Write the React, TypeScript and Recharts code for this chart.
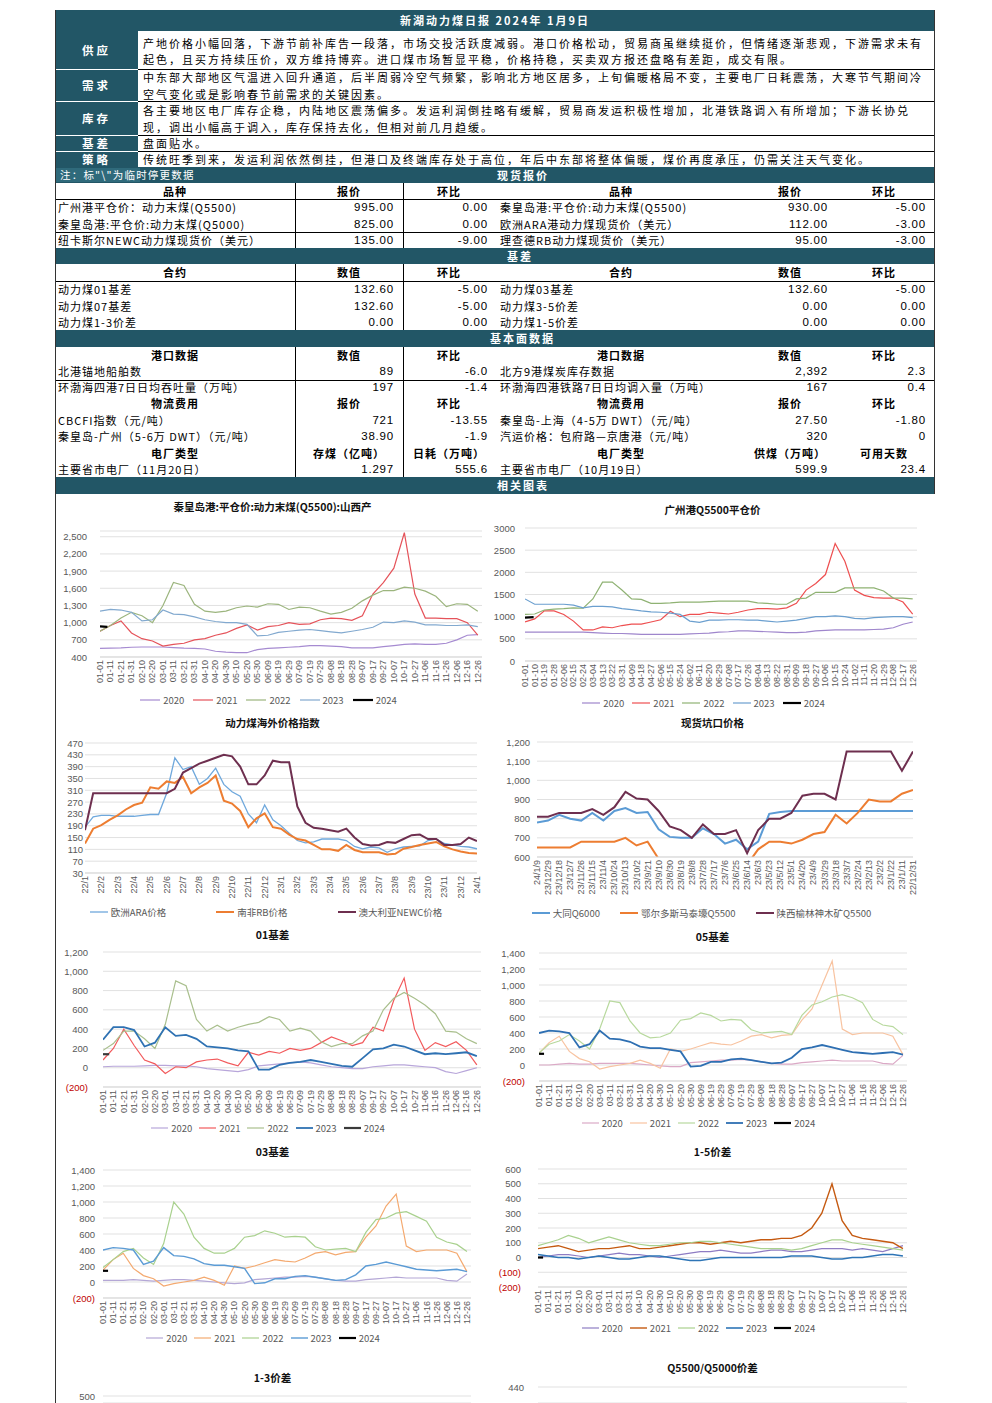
import React from "react";
import { LineChart, Line, XAxis, YAxis, CartesianGrid, Legend } from "recharts";

// ---------------- page text / table data ----------------
const reportTitle = "新湖动力煤日报 2024年 1月9日";
const commentaryLabels = ["供应", "需求", "库存", "基差", "策略"];
const commentaryLines = [
  ["产地价格小幅回落，下游节前补库告一段落，市场交投活跃度减弱。港口价格松动，贸易商虽继续挺价，但情绪逐渐悲观，下游需求未有", "起色，且买方持续压价，双方维持博弈。进口煤市场暂显平稳，价格持稳，买卖双方报还盘略有差距，成交有限。"],
  ["中东部大部地区气温进入回升通道，后半周弱冷空气频繁，影响北方地区居多，上旬偏暖格局不变，主要电厂日耗震荡，大寒节气期间冷", "空气变化或是影响春节前需求的关键因素。"],
  ["各主要地区电厂库存企稳，内陆地区震荡偏多。发运利润倒挂略有缓解，贸易商发运积极性增加，北港铁路调入有所增加；下游长协兑", "现，调出小幅高于调入，库存保持去化，但相对前几月趋缓。"],
  ["盘面贴水。"],
  ["传统旺季到来，发运利润依然倒挂，但港口及终端库存处于高位，年后中东部将整体偏暖，煤价再度承压，仍需关注天气变化。"],
];
const noteText = "注：标\"\\\"为临时停更数据";
const barTitles = ["现货报价", "基差", "基本面数据", "相关图表"];

const spotHeader = ["品种", "报价", "环比", "品种", "报价", "环比"];
const spotRows = [
  ["广州港平仓价：动力末煤(Q5500)", "995.00", "0.00", "秦皇岛港:平仓价:动力末煤(Q5500)", "930.00", "-5.00"],
  ["秦皇岛港:平仓价:动力末煤(Q5000)", "825.00", "0.00", "欧洲ARA港动力煤现货价（美元）", "112.00", "-3.00"],
  ["纽卡斯尔NEWC动力煤现货价（美元）", "135.00", "-9.00", "理查德RB动力煤现货价（美元）", "95.00", "-3.00"],
];
const basisHeader = ["合约", "数值", "环比", "合约", "数值", "环比"];
const basisRows = [
  ["动力煤01基差", "132.60", "-5.00", "动力煤03基差", "132.60", "-5.00"],
  ["动力煤07基差", "132.60", "-5.00", "动力煤3-5价差", "0.00", "0.00"],
  ["动力煤1-3价差", "0.00", "0.00", "动力煤1-5价差", "0.00", "0.00"],
];
const fundRows = [
  { head: true, cells: ["港口数据", "数值", "环比", "港口数据", "数值", "环比"] },
  { head: false, cells: ["北港锚地船舶数", "89", "-6.0", "北方9港煤炭库存数据", "2,392", "2.3"] },
  { head: false, cells: ["环渤海四港7日日均吞吐量（万吨）", "197", "-1.4", "环渤海四港铁路7日日均调入量（万吨）", "167", "0.4"] },
  { head: true, cells: ["物流费用", "报价", "环比", "物流费用", "报价", "环比"] },
  { head: false, cells: ["CBCFI指数（元/吨）", "721", "-13.55", "秦皇岛-上海（4-5万 DWT）（元/吨）", "27.50", "-1.80"] },
  { head: false, cells: ["秦皇岛-广州（5-6万 DWT）（元/吨）", "38.90", "-1.9", "汽运价格：包府路—京唐港（元/吨）", "320", "0"] },
  { head: true, cells: ["电厂类型", "存煤（亿吨）", "日耗（万吨）", "电厂类型", "供煤（万吨）", "可用天数"] },
  { head: false, cells: ["主要省市电厂（11月20日）", "1.297", "555.6", "主要省市电厂（10月19日）", "599.9", "23.4"] },
];

// ---------------- chart data ----------------
const seasonNames = ["2020", "2021", "2022", "2023", "2024"];
const ticks10 = ["01-01","01-11","01-21","01-31","02-10","02-20","03-01","03-11","03-21","03-31","04-10","04-20","04-30","05-10","05-20","05-30","06-09","06-19","06-29","07-09","07-19","07-29","08-08","08-18","08-28","09-07","09-17","09-27","10-07","10-17","10-27","11-06","11-16","11-26","12-06","12-16","12-26"];
const ticks9 = ["01-01","01-10","01-19","01-28","02-06","02-15","02-24","03-04","03-13","03-22","03-31","04-09","04-18","04-27","05-06","05-15","05-24","06-02","06-11","06-20","06-29","07-08","07-17","07-26","08-04","08-13","08-22","08-31","09-09","09-18","09-27","10-06","10-15","10-24","11-02","11-11","11-20","11-29","12-08","12-17","12-26"];
const days10 = ticks10.map((_, i) => 1 + 10 * i);
const days9 = ticks9.map((_, i) => 1 + 9 * i);

// 秦皇岛港:平仓价:动力末煤(Q5500):山西产
const qhd2020 = [550,555,560,570,575,575,575,565,555,550,540,500,485,475,475,530,550,560,570,580,600,600,590,580,560,560,560,580,600,620,630,620,620,640,700,780,790];
const qhd2021 = [850,950,1030,820,720,680,590,620,640,700,720,780,820,900,960,870,930,950,1000,970,980,1050,1080,1070,1040,1120,1500,1700,1950,2570,1500,1080,1080,1070,1070,1000,780];
const qhd2022 = [850,950,1080,1180,1120,1000,1300,1700,1650,1320,1200,1180,1200,1260,1290,1270,1330,1320,1230,1270,1260,1200,1150,1180,1250,1380,1480,1560,1560,1620,1600,1550,1460,1280,1330,1320,1200];
const qhd2023 = [1200,1230,1220,1180,1030,1050,1220,1150,1140,1100,1050,1020,1000,1000,970,770,780,830,850,870,880,860,840,820,850,880,920,1010,1000,1030,1010,960,960,950,950,960,930];
const qhd2024Days = [1, 8];
const qhd2024 = [935, 925];

// 广州港Q5500平仓价
const gz2020 = [650,650,650,650,650,650,650,640,630,620,620,610,600,600,600,600,600,610,620,630,650,660,680,680,670,660,650,640,640,650,680,690,700,700,700,700,710,720,750,830,880];
const gz2021 = [880,950,1130,1130,1050,900,700,700,770,750,800,830,830,880,930,1120,1000,1050,1050,1100,1080,1060,1100,1150,1180,1180,1170,1200,1300,1600,1750,1950,2650,2250,1600,1480,1430,1420,1420,1330,1060];
const gz2022 = [1050,1060,1150,1170,1180,1200,1190,1400,1780,1780,1600,1400,1390,1300,1300,1310,1330,1330,1330,1340,1350,1350,1350,1350,1310,1300,1280,1280,1400,1420,1550,1550,1550,1650,1650,1650,1650,1580,1420,1420,1400];
const gz2023 = [1400,1280,1280,1280,1280,1260,1200,1230,1230,1220,1180,1160,1130,1110,1100,1080,1050,900,870,920,920,930,930,920,920,900,880,900,920,960,1000,1000,1020,1000,960,950,980,990,1000,1000,980];
const gz2024Days = [1, 9];
const gz2024 = [980, 990];

// 动力煤海外价格指数 (half-month points)
const ovLabels = ["22/1","22/2","22/3","22/4","22/5","22/6","22/7","22/8","22/9","22/10","22/11","22/12","23/1","23/2","23/3","23/4","23/5","23/6","23/7","23/8","23/9","23/10","23/11","23/12","24/1"];
const ovTicks = ovLabels.map((_, i) => i);
const ovX = Array.from({ length: 49 }, (_, i) => i / 2);
const ovARA = [185,220,225,225,222,222,222,225,228,228,300,420,380,390,330,350,385,330,305,290,230,200,260,210,190,165,140,132,135,145,145,145,140,120,112,118,115,100,112,118,120,122,140,145,130,125,120,118,112];
const ovRB = [130,180,192,210,225,245,260,268,320,315,340,335,355,300,320,335,360,275,265,240,185,215,232,185,180,160,145,140,125,110,110,105,125,108,100,100,100,93,95,112,118,125,130,135,120,110,103,98,96];
const ovNEWC = [175,300,300,300,300,300,300,300,300,300,300,315,370,385,400,410,420,430,425,390,330,330,360,410,405,405,255,200,183,180,175,170,180,150,128,123,125,135,132,145,158,160,145,145,125,125,128,150,138];

// 现货坑口价格 (dates run backwards)
const pitLabels = ["24/1/9","23/12/29","23/12/18","23/12/7","23/11/26","23/11/15","23/11/4","23/10/24","23/10/13","23/10/2","23/9/21","23/9/10","23/8/30","23/8/19","23/8/8","23/7/28","23/7/17","23/7/6","23/6/25","23/6/14","23/6/3","23/5/23","23/5/12","23/5/1","23/4/20","23/4/9","23/3/29","23/3/18","23/3/7","23/2/24","23/2/13","23/2/2","23/1/22","23/1/11","22/12/31"];
const pitIdx = pitLabels.map((_, i) => i);
const pitDatong = [780,790,820,800,790,830,790,840,855,830,835,745,705,700,700,750,720,670,690,640,680,825,835,840,840,840,840,840,840,840,840,840,840,840,840];
const pitOrdos = [650,650,650,650,680,680,680,680,700,660,680,590,560,560,560,560,560,560,560,560,640,680,680,670,690,720,730,820,775,830,900,890,890,930,950];
const pitYulin = [810,810,830,830,830,850,820,860,940,905,900,840,760,740,700,770,720,720,740,620,740,800,800,830,920,930,930,900,1150,1150,1150,1150,1150,1050,1150];

// 01基差
const b01_2020 = [10,15,15,15,20,25,25,20,20,10,-10,-20,-30,-40,-20,20,30,40,50,60,50,30,10,0,-10,-10,10,20,30,30,20,10,0,-40,-60,-30,0];
const b01_2021 = [80,200,400,230,80,40,-60,10,0,60,80,90,50,20,160,130,170,150,200,180,200,260,320,280,230,260,420,380,700,930,400,180,260,220,270,180,30];
const b01_2022 = [180,250,380,380,300,200,450,900,850,500,380,440,380,420,450,470,530,500,380,410,380,270,220,250,250,330,380,600,720,780,720,650,560,380,370,300,250];
const b01_2023 = [290,420,420,390,220,260,420,330,340,300,220,210,200,180,170,-20,-20,30,50,60,80,60,40,20,10,100,190,200,240,220,180,140,150,140,150,160,120];
const b01_2024Days = [1, 7];
const b01_2024 = [140, 140];

// 05基差
const b05_2020 = [0,0,10,20,10,10,20,20,20,20,10,0,-10,-20,-20,30,40,50,60,60,70,60,40,20,10,10,30,40,50,60,50,50,50,50,20,10,120];
const b05_2021 = [150,280,360,170,80,40,-50,-20,0,20,60,20,-40,200,170,200,240,280,260,250,300,360,380,340,370,380,560,700,1000,1300,450,380,400,400,400,360,130];
const b05_2022 = [150,260,300,380,300,200,450,800,780,550,400,340,350,400,560,580,650,620,550,570,560,440,400,410,420,380,620,750,790,850,880,840,780,570,500,480,380];
const b05_2023 = [400,430,420,400,220,260,430,330,320,290,230,210,210,190,170,-20,-10,40,40,70,80,60,40,20,30,90,200,220,250,220,190,160,150,140,150,160,130];
const b05_2024Days = [1, 6];
const b05_2024 = [140, 140];

// 03基差
const b03_2020 = [20,20,20,30,20,10,20,30,30,20,10,0,-10,-20,-10,30,40,50,60,60,70,60,40,20,10,10,30,40,50,60,50,50,50,50,20,10,100];
const b03_2021 = [150,280,360,170,80,40,-50,-20,0,20,60,20,-40,200,170,200,240,280,260,250,300,360,380,340,370,380,560,700,950,1100,450,380,400,400,400,360,130];
const b03_2022 = [180,280,380,420,300,220,480,1000,850,560,420,360,360,420,560,580,640,610,560,570,560,440,400,410,420,380,620,780,800,860,880,820,760,560,500,470,380];
const b03_2023 = [400,430,420,400,220,260,430,330,320,290,230,210,210,190,170,-20,-10,40,40,70,80,60,40,20,30,90,200,220,250,220,190,160,150,140,150,160,130];
const b03_2024Days = [1, 6];
const b03_2024 = [140, 140];

// 1-5价差
const s15_2020 = [0,10,20,20,10,0,10,20,30,20,20,10,0,10,20,30,40,40,50,40,30,30,40,50,50,40,40,50,60,60,60,50,60,50,40,60,80];
const s15_2021 = [60,70,80,60,40,50,60,60,70,80,60,60,70,80,90,100,100,90,100,110,100,110,120,120,130,130,150,200,300,500,250,150,130,120,110,100,60];
const s15_2022 = [80,100,120,150,130,100,120,140,120,100,90,80,80,90,100,100,110,110,100,90,80,70,60,60,60,50,60,80,100,120,120,100,90,80,70,60,50];
const s15_2023 = [20,10,0,0,-10,0,10,0,-10,-10,0,10,10,0,-10,-20,-20,-10,0,0,0,0,0,0,0,10,10,10,0,-10,-10,0,0,10,20,20,10];
const s15_2024Days = [1, 6];
const s15_2024 = [0, 0];

// 1-3价差 (only the top edge of this chart is on the page)
const monthDays = [1, 32, 60, 91, 121, 152, 182, 213, 244, 274, 305, 335, 361];
const s13_2020 = [10,20,10,0,10,30,40,50,40,30,40,30,40];
const s13_2021 = [60,80,50,60,80,100,110,120,130,150,200,120,60];
const s13_2022 = [100,130,120,90,100,110,90,70,60,80,110,90,60];
const s13_2023 = [10,0,-10,0,10,-10,0,0,10,0,0,10,10];

// Q5500/Q5000价差 (only the top edge of this chart is on the page)
const q55_2021 = [150,160,170,180,180,190,200,210,230,300,280,210,180];
const q55_2022 = [170,180,200,210,200,190,180,180,190,210,230,200,190];
const q55_2023 = [140,150,140,130,120,110,100,100,110,110,110,110,105];

// ---------------- styling ----------------
const TEAL = "#225666";
const CJK = '"Noto Sans CJK SC", "Noto Sans", sans-serif';
const NUM = '"Liberation Sans", Arial, "Noto Sans CJK SC", sans-serif';
const AXIS_GRAY = "#595959";
const GRID = "#d9d9d9";

type Series = { name: string; color: string; w: number; xs: number[]; ys: number[] };
type Spec = {
  left: number; top: number; width: number; height: number;
  title: string; titleY: number;
  margin: { top: number; right: number; bottom: number; left: number };
  yWidth: number; xHeight: number; yTickMargin: number;
  xDomain: [number, number]; xTicks: number[]; xLabels: string[];
  yDomain: [number, number]; yTicks: number[]; yFmt: (v: number) => string;
  series: Series[]; legendGap: number; swatch: number; overflow?: boolean;
  partial?: boolean;
};

const plainFmt = (v: number) => String(v);
const commaFmt = (v: number) => (v < 0 ? `(${Math.abs(v).toLocaleString("en-US")})` : v.toLocaleString("en-US"));
const range = (a: number, b: number, step: number) => {
  const out: number[] = [];
  for (let v = a; v <= b; v += step) out.push(v);
  return out;
};

const seasonal = (colors: string[], widths: number[], xs: number[], sets: number[][], xs2024: number[], v2024: number[]): Series[] => {
  const res: Series[] = sets.map((ys, i) => ({ name: seasonNames[i], color: colors[i], w: widths[i], xs, ys }));
  res.push({ name: seasonNames[4], color: colors[4], w: widths[4], xs: xs2024, ys: v2024 });
  return res;
};

function Chart({ s }: { s: Spec }) {
  const labelMap = new Map<number, string>(s.xTicks.map((t, i) => [t, s.xLabels[i]]));
  const widthMap = new Map<string, number>(s.series.map((x) => [x.name, x.w]));
  const orderMap = new Map<string, number>(s.series.map((x, i) => [x.name, i]));
  return (
    <div style={{ position: "absolute", left: s.left, top: s.top, width: s.width, height: s.height }}>
      <div
        style={{
          position: "absolute", left: 0, top: s.titleY - 8, width: s.width, height: 16, lineHeight: "16px",
          textAlign: "center", fontFamily: CJK, fontWeight: 700, fontSize: 10.5, color: "#111", whiteSpace: "nowrap",
        }}
      >
        {s.title}
      </div>
      <LineChart width={s.width} height={s.height} margin={s.margin}>
        <CartesianGrid vertical={false} stroke={GRID} strokeWidth={0.8} />
        <XAxis
          dataKey="x" type="number" domain={s.xDomain} ticks={s.xTicks} interval={0}
          height={s.xHeight} tickSize={0} tickMargin={3} tickLine={false} hide={!!s.partial}
          axisLine={{ stroke: GRID }} allowDataOverflow
          tick={(p: any) => (
            <text
              x={p.x} y={p.y} transform={`rotate(-90 ${p.x} ${p.y})`} textAnchor="end"
              dominantBaseline="central" fontSize={9} fill={AXIS_GRAY} fontFamily={NUM}
            >
              {labelMap.get(p.payload.value) ?? ""}
            </text>
          )}
        />
        <YAxis
          type="number" domain={s.yDomain} ticks={s.yTicks} interval={0} width={s.yWidth}
          tickSize={0} tickMargin={s.yTickMargin} axisLine={false} tickLine={false}
          allowDataOverflow={!!s.overflow}
          tick={(p: any) => {
            const v = p.payload.value as number;
            return (
              <text x={p.x} y={p.y} textAnchor="end" dominantBaseline="central" fontSize={9.5}
                fill={v < 0 ? "#c00000" : AXIS_GRAY} fontFamily={NUM}>
                {s.yFmt(v)}
              </text>
            );
          }}
        />
        {!s.partial && (
          <Legend
            verticalAlign="bottom" height={14}
            content={(props: any) => {
              const items = [...(props.payload || [])].sort(
                (a: any, b: any) => (orderMap.get(String(a.value)) ?? 0) - (orderMap.get(String(b.value)) ?? 0)
              );
              return (
                <div style={{ display: "flex", justifyContent: "center", alignItems: "center", height: 14, gap: s.legendGap, fontFamily: CJK, fontSize: 9.5, color: AXIS_GRAY }}>
                  {items.map((p: any) => (
                    <div key={String(p.value)} style={{ display: "flex", alignItems: "center", whiteSpace: "nowrap", height: 14 }}>
                      <svg width={s.swatch} height={6}>
                        <line x1={0} y1={3} x2={s.swatch} y2={3} stroke={p.color} strokeWidth={widthMap.get(String(p.value)) ?? 1.5} />
                      </svg>
                      <span style={{ marginLeft: 3, lineHeight: "14px" }}>{p.value}</span>
                    </div>
                  ))}
                </div>
              );
            }}
          />
        )}
        {s.series.map((x) => (
          <Line
            key={x.name} data={x.ys.map((v, i) => ({ x: x.xs[i], v }))} dataKey="v" name={x.name}
            stroke={x.color} strokeWidth={x.w} dot={false} activeDot={false}
            isAnimationActive={false} type="linear"
          />
        ))}
      </LineChart>
    </div>
  );
}

const specs: Spec[] = [
  {
    left: 55, top: 495, width: 435, height: 215, title: "秦皇岛港:平仓价:动力末煤(Q5500):山西产", titleY: 12,
    margin: { top: 36, right: 8, bottom: 3, left: 0 }, yWidth: 45, xHeight: 36, yTickMargin: 13,
    xDomain: [1, 365], xTicks: days10, xLabels: ticks10,
    yDomain: [400, 2600], yTicks: range(400, 2500, 300), yFmt: commaFmt,
    series: seasonal(["#a68bd1", "#e5535a", "#9cb57e", "#82a9cf", "#000000"], [1.2, 1.2, 1.2, 1.2, 2.2], days10, [qhd2020, qhd2021, qhd2022, qhd2023], qhd2024Days, qhd2024),
    legendGap: 9, swatch: 20,
  },
  {
    left: 490, top: 495, width: 445, height: 215, title: "广州港Q5500平仓价", titleY: 15,
    margin: { top: 33, right: 18, bottom: 0, left: 0 }, yWidth: 35, xHeight: 35, yTickMargin: 10,
    xDomain: [1, 365], xTicks: days9, xLabels: ticks9,
    yDomain: [0, 3000], yTicks: range(0, 3000, 500), yFmt: plainFmt,
    series: seasonal(["#9f86cc", "#ee4f50", "#8fb273", "#6b9fcf", "#000000"], [1.2, 1.2, 1.2, 1.2, 2.2], days9, [gz2020, gz2021, gz2022, gz2023], gz2024Days, gz2024),
    legendGap: 8, swatch: 18,
  },
  {
    left: 55, top: 710, width: 435, height: 215, title: "动力煤海外价格指数", titleY: 13,
    margin: { top: 33, right: 13, bottom: 6, left: 0 }, yWidth: 30, xHeight: 32, yTickMargin: 2,
    xDomain: [0, 24], xTicks: ovTicks, xLabels: ovLabels,
    yDomain: [30, 470], yTicks: range(30, 470, 40), yFmt: plainFmt,
    series: [
      { name: "欧洲ARA价格", color: "#6fa8dc", w: 1.3, xs: ovX, ys: ovARA },
      { name: "南非RB价格", color: "#ed7d31", w: 2, xs: ovX, ys: ovRB },
      { name: "澳大利亚NEWC价格", color: "#6e2f4f", w: 2, xs: ovX, ys: ovNEWC },
    ],
    legendGap: 50, swatch: 18,
  },
  {
    left: 490, top: 710, width: 445, height: 215, title: "现货坑口价格", titleY: 13,
    margin: { top: 32, right: 22, bottom: 5, left: 0 }, yWidth: 47, xHeight: 49, yTickMargin: 7,
    xDomain: [0, 34], xTicks: pitIdx, xLabels: pitLabels,
    yDomain: [600, 1200], yTicks: range(600, 1200, 100), yFmt: commaFmt, overflow: true,
    series: [
      { name: "大同Q6000", color: "#5b9bd5", w: 2, xs: pitIdx, ys: pitDatong },
      { name: "鄂尔多斯马泰壕Q5500", color: "#ed7d31", w: 2, xs: pitIdx, ys: pitOrdos },
      { name: "陕西榆林神木矿Q5500", color: "#6e2f4f", w: 2, xs: pitIdx, ys: pitYulin },
    ],
    legendGap: 20, swatch: 18,
  },
  {
    left: 55, top: 925, width: 435, height: 215, title: "01基差", titleY: 10,
    margin: { top: 27, right: 9, bottom: 5, left: 0 }, yWidth: 48, xHeight: 34, yTickMargin: 15,
    xDomain: [1, 365], xTicks: days10, xLabels: ticks10,
    yDomain: [-200, 1200], yTicks: range(-200, 1200, 200), yFmt: commaFmt,
    series: seasonal(["#b8a6da", "#f25a5c", "#a9bf8d", "#2f72b3", "#3a3a3a"], [1.2, 1.2, 1.2, 1.8, 2.2], days10, [b01_2020, b01_2021, b01_2022, b01_2023], b01_2024Days, b01_2024),
    legendGap: 7, swatch: 17,
  },
  {
    left: 490, top: 925, width: 445, height: 215, title: "05基差", titleY: 12,
    margin: { top: 28, right: 28, bottom: 10, left: 0 }, yWidth: 49, xHeight: 35, yTickMargin: 14,
    xDomain: [1, 365], xTicks: days10, xLabels: ticks10,
    yDomain: [-200, 1400], yTicks: range(-200, 1400, 200), yFmt: commaFmt,
    series: seasonal(["#dba9c6", "#f8c3a0", "#b8d99e", "#2e6fb2", "#000000"], [1.2, 1.2, 1.2, 1.8, 2.2], days10, [b05_2020, b05_2021, b05_2022, b05_2023], b05_2024Days, b05_2024),
    legendGap: 7, swatch: 17,
  },
  {
    left: 55, top: 1140, width: 435, height: 215, title: "03基差", titleY: 12,
    margin: { top: 30, right: 19, bottom: 10, left: 0 }, yWidth: 48, xHeight: 33, yTickMargin: 8,
    xDomain: [1, 365], xTicks: days10, xLabels: ticks10,
    yDomain: [-200, 1400], yTicks: range(-200, 1400, 200), yFmt: commaFmt,
    series: seasonal(["#b4a7d6", "#f4a96f", "#a9d18e", "#5b9bd5", "#000000"], [1.2, 1.2, 1.2, 1.4, 2.2], days10, [b03_2020, b03_2021, b03_2022, b03_2023], b03_2024Days, b03_2024),
    legendGap: 7, swatch: 17,
  },
  {
    left: 490, top: 1140, width: 445, height: 215, title: "1-5价差", titleY: 12,
    margin: { top: 29, right: 28, bottom: 20, left: 0 }, yWidth: 48, xHeight: 34, yTickMargin: 17,
    xDomain: [1, 365], xTicks: days10, xLabels: ticks10,
    yDomain: [-200, 600], yTicks: range(-200, 600, 100), yFmt: commaFmt,
    series: seasonal(["#8e7cc3", "#c55a11", "#a9d18e", "#2e75b6", "#000000"], [1.2, 1.4, 1.2, 1.6, 2.2], days10, [s15_2020, s15_2021, s15_2022, s15_2023], s15_2024Days, s15_2024),
    legendGap: 7, swatch: 17,
  },
  {
    left: 55, top: 1365, width: 435, height: 38, title: "1-3价差", titleY: 13,
    margin: { top: 31, right: 19, bottom: 0, left: 0 }, yWidth: 48, xHeight: 0, yTickMargin: 8,
    xDomain: [1, 365], xTicks: days10, xLabels: ticks10,
    yDomain: [456, 500], yTicks: [500], yFmt: commaFmt, overflow: true, partial: true,
    series: [
      { name: "2020", color: "#b4a7d6", w: 1.2, xs: monthDays, ys: s13_2020 },
      { name: "2021", color: "#f4a96f", w: 1.2, xs: monthDays, ys: s13_2021 },
      { name: "2022", color: "#a9d18e", w: 1.2, xs: monthDays, ys: s13_2022 },
      { name: "2023", color: "#2e75b6", w: 1.6, xs: monthDays, ys: s13_2023 },
    ],
    legendGap: 7, swatch: 17,
  },
  {
    left: 490, top: 1355, width: 445, height: 48, title: "Q5500/Q5000价差", titleY: 13,
    margin: { top: 32, right: 28, bottom: 0, left: 0 }, yWidth: 48, xHeight: 0, yTickMargin: 14,
    xDomain: [1, 365], xTicks: days10, xLabels: ticks10,
    yDomain: [400, 440], yTicks: [440], yFmt: plainFmt, overflow: true, partial: true,
    series: [
      { name: "2021", color: "#f4a96f", w: 1.2, xs: monthDays, ys: q55_2021 },
      { name: "2022", color: "#a9d18e", w: 1.2, xs: monthDays, ys: q55_2022 },
      { name: "2023", color: "#2e75b6", w: 1.6, xs: monthDays, ys: q55_2023 },
    ],
    legendGap: 7, swatch: 17,
  },
];

// ---------------- table helpers ----------------
type TxtProps = { l: number; t: number; w: number; h?: number; text: string; align?: "left" | "center" | "right"; bold?: boolean; color?: string; size?: number; ls?: number; font?: string; pad?: number };
function Txt({ l, t, w, h = 16, text, align = "left", bold = false, color = "#000", size = 11, ls = 1, font = CJK, pad = 0 }: TxtProps) {
  return (
    <div
      style={{
        position: "absolute", left: l, top: t, width: w, height: h, lineHeight: `${h}px`, textAlign: align,
        fontWeight: bold ? 700 : 400, color, fontSize: size, letterSpacing: ls, whiteSpace: "nowrap",
        fontFamily: font, boxSizing: "border-box", paddingLeft: align === "left" ? pad : 0,
        paddingRight: align === "right" ? pad : 0, overflow: "visible",
      }}
    >
      {text}
    </div>
  );
}
const Rect = ({ l, t, w, h, bg }: { l: number; t: number; w: number; h: number; bg: string }) => (
  <div style={{ position: "absolute", left: l, top: t, width: w, height: h, background: bg }} />
);

const colsL = [{ l: 55, w: 240 }, { l: 295, w: 108 }, { l: 403, w: 92 }];
const colsR = [{ l: 495, w: 252 }, { l: 747, w: 86 }, { l: 833, w: 102 }];
const numPadL = [3, 9, 7];
const numPadR = [5, 5, 9];

function SixRow({ top, h, cells, head }: { top: number; h: number; cells: string[]; head: boolean }) {
  const out: React.ReactNode[] = [];
  cells.forEach((c, i) => {
    const col = i < 3 ? colsL[i] : colsR[i - 3];
    const pads = i < 3 ? numPadL : numPadR;
    const k = i % 3;
    if (head) {
      out.push(<Txt key={i} l={col.l} t={top} w={col.w} h={h} text={c} align="center" bold />);
    } else if (k === 0) {
      out.push(<Txt key={i} l={col.l} t={top} w={col.w} h={h} text={c} align="left" pad={pads[0]} />);
    } else {
      out.push(<Txt key={i} l={col.l} t={top} w={col.w} h={h} text={c} align="right" pad={pads[k]} font={NUM} size={11.5} ls={0.8} />);
    }
  });
  return <>{out}</>;
}

const commentaryRows = [
  { top: 31, h: 38, lines: [43, 59], mid: 50 },
  { top: 69, h: 32, lines: [77, 94], mid: 85 },
  { top: 101, h: 34, lines: [110, 127], mid: 118 },
  { top: 135, h: 16, lines: [143], mid: 143 },
  { top: 151, h: 16, lines: [159], mid: 159 },
];

export default function App() {
  const spotTops = [199, 216, 232];
  const basisTops = [281, 298, 314];
  const fundTops = [347, 363, 380, 395, 412, 428, 445, 462, 477];
  return (
    <div style={{ position: "fixed", left: 0, top: 0, width: 992, height: 1403, overflow: "hidden", background: "#fff", fontFamily: CJK }}>
      {/* title bar */}
      <Rect l={55} t={10} w={880} h={21} bg={TEAL} />
      <Txt l={55} t={11} w={880} h={19} text={reportTitle} align="center" bold color="#fff" size={11} ls={2} />

      {/* commentary */}
      {commentaryRows.map((r, i) => (
        <React.Fragment key={i}>
          <Rect l={55} t={r.top} w={83} h={r.h} bg={TEAL} />
          <Txt l={55} t={r.mid - 8} w={83} text={commentaryLabels[i]} align="center" bold color="#fff" size={11.5} ls={3} />
          {commentaryLines[i].map((line, j) => (
            <Txt key={j} l={138} t={r.lines[j] - 8} w={797} text={line} pad={5} ls={2} size={11} />
          ))}
          {i > 0 && <Rect l={138} t={r.top} w={797} h={1} bg="#000" />}
          {i > 0 && <Rect l={55} t={r.top} w={83} h={1} bg="#ffffff" />}
        </React.Fragment>
      ))}

      {/* spot price section */}
      <Rect l={55} t={167} w={880} h={16} bg={TEAL} />
      <Rect l={56} t={168} w={84} h={14} bg="#2f6a7b" />
      <Txt l={55} t={167} w={200} text={noteText} pad={5} color="#fff" size={10.5} ls={1.2} />
      <Txt l={497} t={167} w={120} text={barTitles[0]} bold color="#fff" ls={2} />
      <SixRow top={183} h={16} cells={spotHeader} head />
      {spotRows.map((r, i) => <SixRow key={i} top={spotTops[i]} h={16} cells={r} head={false} />)}
      <Rect l={55} t={199} w={880} h={1} bg="#000" />
      <Rect l={55} t={232} w={880} h={1} bg="#000" />
      <Rect l={295} t={183} w={1} h={65} bg="#000" />
      <Rect l={403} t={183} w={1} h={65} bg="#000" />

      {/* basis section */}
      <Rect l={55} t={248} w={880} h={16} bg={TEAL} />
      <Txt l={507} t={248} w={80} text={barTitles[1]} bold color="#fff" ls={2} />
      <SixRow top={264} h={17} cells={basisHeader} head />
      {basisRows.map((r, i) => <SixRow key={i} top={basisTops[i]} h={16} cells={r} head={false} />)}
      <Rect l={55} t={281} w={880} h={1} bg="#000" />
      <Rect l={295} t={264} w={1} h={66} bg="#000" />
      <Rect l={403} t={264} w={1} h={66} bg="#000" />

      {/* fundamentals */}
      <Rect l={55} t={330} w={880} h={17} bg={TEAL} />
      <Txt l={490} t={330} w={120} h={17} text={barTitles[2]} bold color="#fff" ls={2} />
      {fundRows.map((r, i) => (
        <SixRow key={i} top={fundTops[i]} h={fundTops[i + 1] - fundTops[i]} cells={r.cells} head={r.head} />
      ))}
      <Rect l={55} t={380} w={880} h={1} bg="#000" />
      <Rect l={295} t={347} w={1} h={130} bg="#000" />
      <Rect l={403} t={347} w={1} h={130} bg="#000" />

      {/* charts bar */}
      <Rect l={55} t={477} w={880} h={17} bg={TEAL} />
      <Txt l={497} t={477} w={120} h={17} text={barTitles[3]} bold color="#fff" ls={2} />

      {/* frame lines */}
      <Rect l={55} t={10} w={1} h={1393} bg="#333" />
      <Rect l={934} t={10} w={1} h={484} bg="#333" />

      {specs.map((s, i) => <Chart key={i} s={s} />)}
    </div>
  );
}
